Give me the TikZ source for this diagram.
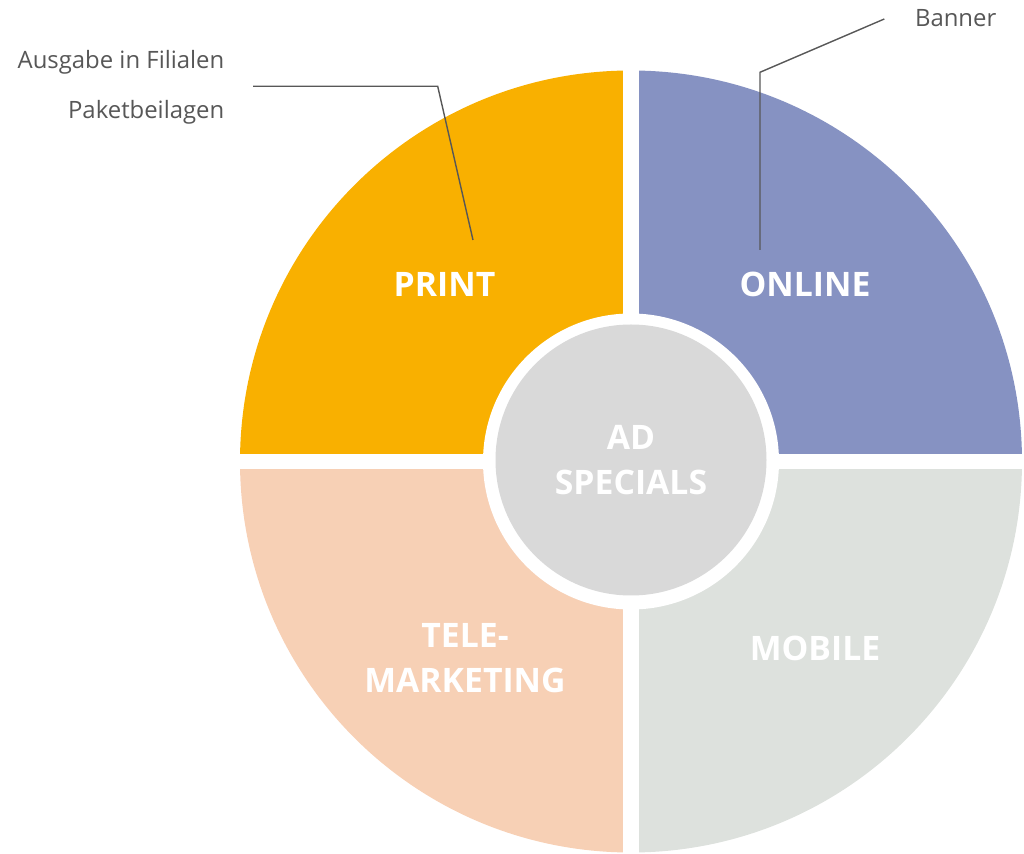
\documentclass[tikz,border=0pt]{standalone}
\usepackage{fontspec}
\setmainfont{Open Sans}
\definecolor{printorange}{HTML}{F9B000}
\definecolor{onlineblue}{HTML}{8692C2}
\definecolor{mobilegray}{HTML}{DDE1DD}
\definecolor{telepeach}{HTML}{F7D0B5}
\definecolor{centergray}{HTML}{D9D9D9}
\definecolor{notegray}{HTML}{575757}

\begin{document}
\begin{tikzpicture}[
    segtext/.style={text=white, font=\bfseries\fontsize{9.6}{12.6}\selectfont, align=center},
    note/.style={text=notegray, inner sep=0pt, font=\fontsize{6.8}{8.1}\selectfont},
    leader/.style={draw=notegray, line width=0.4pt}]
            \useasboundingbox (0,0) rectangle (10.24,8.54);

            % quadrants
            \fill[printorange] (6.31,3.925) -- (2.40,3.925) arc (180:90:3.91) -- cycle;
            \fill[onlineblue] (6.31,3.925) -- (6.31,7.835) arc (90:0:3.91) -- cycle;
            \fill[mobilegray] (6.31,3.925) -- (10.22,3.925) arc (0:-90:3.91) -- cycle;
            \fill[telepeach] (6.31,3.925) -- (6.31,0.015) arc (270:180:3.91) -- cycle;

            % gaps
            \draw[white, line width=4.3pt] (6.31,0) -- (6.31,8.0);
            \draw[white, line width=4.3pt] (2.3,3.925) -- (10.24,3.925);

            \fill[white] (6.31,3.925) circle (1.48);
            \node[circle, fill=centergray, minimum size=2.71cm, inner sep=0pt, segtext] (adspecials) at (6.31,3.94) {AD\\SPECIALS};

            \node[segtext] (print) at (4.445,5.693) {PRINT};
            \node[segtext] (online) at (8.05,5.693) {ONLINE};
            \node[segtext] (tele) at (4.65,1.96) {TELE-\\MARKETING};
            \node[segtext] (mobile) at (8.15,2.057) {MOBILE};

            \node[note, anchor=base east] (ausgabe) at (2.25,7.85) {Ausgabe in Filialen};
            \node[note, anchor=base east] (paket) at (2.25,7.35) {Paketbeilagen};
            \node[note, anchor=base east] (banner) at (9.97,8.273) {Banner};

            \coordinate (printstart) at (2.53,7.677);
            \coordinate (printbend) at (4.377,7.677);
            \coordinate (printtip) at (4.73,6.14);
            \coordinate (bannerstart) at (8.843,8.35);
            \coordinate (bannerbend) at (7.60,7.817);
            \coordinate (bannertip) at (7.60,6.04);

            \draw[leader] (printstart) -- (printbend) -- (printtip);
            \draw[leader] (bannerstart) -- (bannerbend) -- (bannertip);
        \end{tikzpicture}
\end{document}
